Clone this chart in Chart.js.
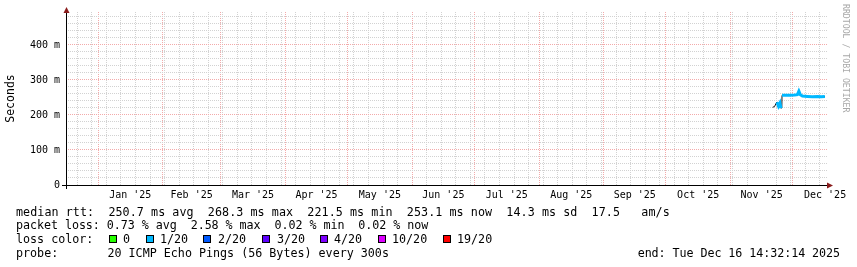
<!DOCTYPE html>
<html><head><meta charset="utf-8">
<script src="https://cdn.jsdelivr.net/npm/chart.js@4.4.1/dist/chart.umd.min.js"></script>
<style>
body{margin:0;background:#fff}
#wrap{position:relative;width:857px;height:267px;overflow:hidden;background:#fff}
#c{position:absolute;left:0;top:0}
.t{position:absolute;font:11.7px "DejaVu Sans Mono",monospace;line-height:14px;white-space:pre;color:#000}
.box{position:absolute;width:6px;height:6px;border:1px solid #000}
#wm{position:absolute;left:841px;top:4px;font:8.2px "DejaVu Sans Mono",monospace;color:#a8a8a8;writing-mode:vertical-rl;line-height:10px;white-space:pre}
</style></head><body>
<div id="wrap">
  <canvas id="c" width="857" height="267"></canvas>
  <div id="legend"></div>
  <div id="wm">RRDTOOL / TOBI OETIKER</div>
</div>
<script>
/* SmokePing style yearly RTT graph */
(function () {
  "use strict";
  const DAY = 864e5;
  const START = Date.UTC(2024, 11, 16, 14, 32, 14);   // one year before "end"
  const SPAN = 366.3;                                  // days shown on the x axis
  const days = (t) => (t - START) / DAY;

  /* median rtt, x = days since START, y = ms */
  const rttDays = [339.7, 340.6, 341.6, 342.0, 342.5, 343.2, 343.7, 344.1, 344.2, 345.4, 347.8, 350.2, 351.6, 352.3, 353.0, 354.0, 356.4, 358.8, 361.2, 363.1, 364.8];
  const rttMs   = [222,   224,   236,   233,   225,   234,   219,   221,   256,   256,   256,   257,   258,   268,   258,   254,   253,   252,   253,   252,   253];
  /* same line in loss colour (1/20); null where the dark smoke shows */
  const lossMs  = [null,  null,  236,   233,   225,   234,   219,   null,  256,   256,   256,   257,   258,   268,   258,   254,   253,   252,   253,   252,   253];

  const monthLabels = ["Jan '25","Feb '25","Mar '25","Apr '25","May '25","Jun '25","Jul '25","Aug '25","Sep '25","Oct '25","Nov '25","Dec '25"];
  const yLabelValues = [0, 100, 200, 300, 400];
  const yLabelText = ["0", "100 m", "200 m", "300 m", "400 m"];

  const lossLabels = ["0","1/20","2/20","3/20","4/20","10/20","19/20"];
  const lossColors = ["#26ff00","#00b8ff","#0059ff","#5e00ff","#7e00ff","#dd00ff","#ff0000"];

  /* x ticks: weeks (minor grid), month starts (major grid), mid month (labels) */
  const kind = new Map();
  for (let t = Date.UTC(2024, 11, 22); days(t) < SPAN; t += 7 * DAY) kind.set(days(t), "week");
  monthLabels.forEach((lb, m) => {
    const a = Date.UTC(2025, m, 1), b = Date.UTC(2025, m + 1, 1);
    kind.set(days(a), "month");
    if (days((a + b) / 2) < SPAN) kind.set(days((a + b) / 2), lb);
  });
  const xTicks = [...kind.keys()].sort((a, b) => a - b);

  const GREY = "#d2d2d2", RED = "#f3aaaa";

  const axes = {
    id: "rrdaxes",
    afterDraw(chart) {
      const { ctx, chartArea: a } = chart;
      ctx.save();
      ctx.lineWidth = 1;
      ctx.strokeStyle = "#000";
      ctx.beginPath();
      ctx.moveTo(62, a.bottom + 0.5); ctx.lineTo(a.right + 2, a.bottom + 0.5);
      ctx.moveTo(a.left + 0.5, a.bottom + 4); ctx.lineTo(a.left + 0.5, a.top - 1);
      ctx.stroke();
      ctx.fillStyle = "#8a1c1c";
      ctx.beginPath();
      ctx.moveTo(a.left + 0.5, a.top - 5); ctx.lineTo(a.left - 2.5, a.top + 1); ctx.lineTo(a.left + 3.5, a.top + 1);
      ctx.fill();
      ctx.beginPath();
      ctx.moveTo(a.right + 5, a.bottom + 0.5); ctx.lineTo(a.right - 1, a.bottom - 2.5); ctx.lineTo(a.right - 1, a.bottom + 3.5);
      ctx.fill();
      ctx.restore();
    }
  };

  Chart.defaults.font.family = "'DejaVu Sans Mono', monospace";
  Chart.defaults.font.size = 10;
  Chart.defaults.color = "#000";

  new Chart(document.getElementById("c"), {
    type: "line",
    data: {
      datasets: [
        { data: rttDays.map((d, i) => ({ x: d, y: lossMs[i] })), borderColor: "#00b8ff", borderWidth: 3, pointRadius: 0, spanGaps: false },
        { data: rttDays.map((d, i) => ({ x: d, y: rttMs[i] })), borderColor: "#111", borderWidth: 1, pointRadius: 0 },
      ],
    },
    options: {
      responsive: false, animation: false,
      layout: { padding: { top: 12, right: 29, left: 0, bottom: 0 } },
      plugins: { legend: { display: false }, tooltip: { enabled: false } },
      scales: {
        x: {
          type: "linear", min: 0, max: SPAN,
          afterBuildTicks: (s) => { s.ticks = xTicks.map((v) => ({ value: v })); },
          afterFit: (s) => { s.height = 82; },
          ticks: { autoSkip: false, maxRotation: 0, padding: 4, callback: (v) => { const k = kind.get(v); return k === "week" || k === "month" ? "" : k; } },
          grid: { drawTicks: false, color: (c) => kind.get(c.tick.value) === "month" ? RED : kind.get(c.tick.value) === "week" ? GREY : "rgba(0,0,0,0)" },
          border: { display: false, dash: [1, 1] },
        },
        y: {
          min: 0, max: 494,
          afterBuildTicks: (s) => { const t = []; for (let v = 0; v <= 480; v += 20) t.push({ value: v }); s.ticks = t; },
          afterFit: (s) => { s.width = 66; },
          ticks: { autoSkip: false, padding: 6, callback: (v) => { const i = yLabelValues.indexOf(v); return i < 0 ? "" : yLabelText[i]; } },
          grid: { drawTicks: false, color: (c) => c.tick.value % 100 === 0 ? RED : GREY },
          border: { display: false, dash: [1, 1] },
          title: { display: true, text: "Seconds", font: { size: 11.5 }, padding: { top: 4, bottom: 0 } },
        },
      },
    },
    plugins: [axes],
  });

  /* text legend under the graph */
  const boxLeft = [109, 146, 203, 262, 320, 378, 443];
  const labLeft = [123, 160, 218, 277, 334, 392, 457];
  let h = "";
  const line = (x, y, s, extra) => `<div class="t" style="left:${x}px;top:${y}px${extra || ""}">${s}</div>`;
  h += line(16, 204.5, "median rtt:  250.7 ms avg  268.3 ms max  221.5 ms min  253.1 ms now  14.3 ms sd  17.5   am/s", ";letter-spacing:0.07px");
  h += line(16, 218, "packet loss: 0.73 % avg  2.58 % max  0.02 % min  0.02 % now", ";letter-spacing:-0.05px");
  h += line(16, 232, "loss color:");
  lossLabels.forEach((lb, i) => {
    h += `<div class="box" style="left:${boxLeft[i]}px;top:235px;background:${lossColors[i]}"></div>`;
    h += line(labLeft[i], 232, lb);
  });
  h += line(16, 245.5, "probe:       20 ICMP Echo Pings (56 Bytes) every 300s");
  h += `<div class="t" style="right:17px;top:245.5px;letter-spacing:-0.06px">end: Tue Dec 16 14:32:14 2025</div>`;
  document.getElementById("legend").innerHTML = h;
})();
</script>
</body></html>
